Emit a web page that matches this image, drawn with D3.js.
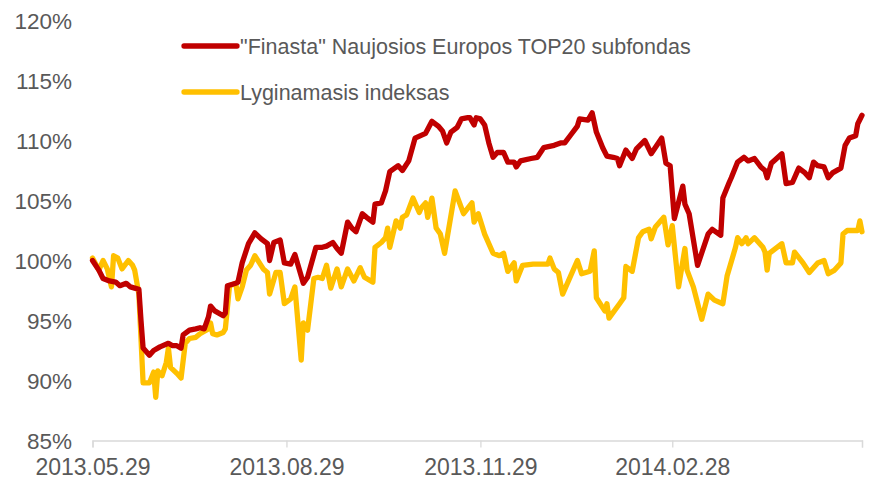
<!DOCTYPE html>
<html>
<head lang="lt">
    <meta charset="UTF-8">
    <title>Finasta TOP20</title>
    <script src="https://cdn.jsdelivr.net/npm/d3@7/dist/d3.min.js"></script>
    <style>
        body{margin:0;background:#fff;}
        text{font-family:Arial,"Liberation Sans",sans-serif;fill:#595959;}
    </style>
</head>
<body>
<script>
    // dienos nuo 2013.05.29 ir reiksmes procentais
    var fundDays=[0,3,5,8,11,13,16,18,20,22,23,24,27,29,32,36,38,40,42,43,46,49,51,53,55,56,58,62,63,64,68,69,71,74,77,80,83,84,86,89,91,94,96,100,102,106,109,111,114,116,118,121,123,125,128,130,133,134,137,139,141,145,147,150,153,158,161,164,166,168,170,173,175,178,179,181,182,184,186,188,190,192,195,197,200,201,203,208,211,214,219,222,224,227,230,231,235,237,239,242,244,247,249,250,253,256,258,262,265,270,272,274,276,280,281,283,287,292,294,298,299,302,303,306,309,311,314,317,319,320,322,327,329,332,335,338,340,342,344,347,349,351,355,357,359,362,363,365];
    var fundValues=[100.0,99.2,98.5,98.3,98.2,97.9,98.1,97.8,97.7,97.6,95.0,92.7,92.1,92.5,92.8,93.1,92.9,92.9,92.7,93.8,94.2,94.3,94.4,94.3,95.3,96.2,95.8,95.4,95.6,97.9,98.1,98.2,99.8,101.4,102.3,101.8,101.4,100.0,101.5,101.7,99.8,99.7,100.5,98.1,98.6,101.1,101.1,101.2,101.5,101.0,100.6,103.2,102.7,102.4,103.9,103.6,103.2,104.7,104.8,105.8,107.4,107.9,107.5,108.3,110.2,110.6,111.6,111.2,110.8,109.8,110.7,111.1,111.8,111.9,111.9,111.3,111.9,111.8,111.3,109.8,108.6,109.0,109.0,108.2,108.2,107.8,108.3,108.5,108.6,109.4,109.6,109.8,109.8,110.5,111.2,111.8,111.7,112.3,110.7,109.4,108.7,108.6,108.5,107.9,109.2,108.5,109.3,110.0,108.9,110.2,108.1,107.9,103.5,106.2,104.7,103.9,99.6,102.2,102.6,102.1,105.2,106.5,106.9,108.2,108.6,108.3,108.5,107.8,107.5,106.9,108.1,108.9,106.4,106.5,107.7,107.3,106.9,108.2,107.9,107.8,106.9,107.3,107.7,109.6,110.2,110.4,111.4,112.1];

    var indexDays=[0,3,5,7,9,10,12,14,17,19,20,22,24,27,29,30,31,33,35,36,37,40,42,44,46,49,51,55,56,57,59,62,63,65,68,69,71,73,75,77,81,83,84,87,89,91,94,96,99,100,102,105,107,109,111,113,116,118,121,124,127,129,133,134,137,139,140,141,144,146,147,149,152,155,156,158,159,161,163,165,167,172,176,180,181,183,186,190,193,195,197,200,201,204,209,216,217,219,221,223,230,232,236,238,239,243,244,245,250,252,253,256,259,261,264,265,267,271,273,275,278,281,282,285,289,292,295,299,301,305,306,308,310,311,314,318,319,320,321,327,329,332,333,337,340,344,347,349,352,355,356,358,363,364,365];
    var indexValues=[100.2,99.2,100.0,99.3,97.8,100.4,100.2,99.3,100.0,99.6,99.2,97.2,89.8,89.8,90.7,88.6,90.8,90.4,91.5,92.7,91.1,90.6,90.2,93.1,93.5,93.6,93.9,94.3,94.8,93.9,93.8,94.0,94.3,97.9,98.1,96.8,97.8,99.2,99.6,100.4,99.3,99.0,97.2,99.0,99.0,96.4,96.8,97.8,91.7,94.8,94.2,98.5,98.6,98.5,99.6,97.7,99.3,97.8,99.3,98.3,99.4,98.6,98.2,101.1,101.5,101.9,102.7,101.1,103.3,102.7,103.6,103.8,105.2,104.0,104.4,104.8,103.6,105.2,102.7,102.2,100.6,105.8,103.9,104.8,103.2,103.9,102.2,100.6,100.4,100.6,99.1,99.8,98.3,99.6,99.7,99.7,100.2,99.3,99.0,97.2,100.0,98.9,99.1,100.8,96.9,95.8,96.4,95.2,96.4,96.9,99.5,99.1,101.9,102.4,102.6,101.8,102.8,103.6,101.3,102.9,97.8,101.0,99.2,97.8,95.1,97.2,96.7,96.4,98.7,101.1,101.9,101.4,101.9,101.4,101.9,101.1,100.7,99.2,100.6,101.4,99.8,99.8,100.7,99.8,99.0,99.8,100.0,98.9,99.2,99.8,102.2,102.5,102.5,103.3,102.4];

    var seriesNames=['"Finasta" Naujosios Europos TOP20 subfondas','Lyginamasis indeksas'];
    var seriesColors=['#C00000','#FFC000'];
    var yTicks=[85,90,95,100,105,110,115,120];
    var xTickLabels=['2013.05.29','2013.08.29','2013.11.29','2014.02.28','2014.05.29'];

    var parse=d3.timeParse('%Y.%m.%d');
    var start=parse(xTickLabels[0]);
    function toPoints(days,vals){
        return days.map(function(d,i){return {date:d3.timeDay.offset(start,d),v:vals[i]};});
    }
    var series=[toPoints(fundDays,fundValues),toPoints(indexDays,indexValues)];

    var _svg=d3.select('body').append('svg')
            .attr('width',875)
            .attr('height',479);

    var _x=d3.scaleTime()
            .domain([start,parse(xTickLabels[xTickLabels.length-1])])
            .range([92.5,862]);
    var _y=d3.scaleLinear().domain([85,120]).range([440.5,20.5]);

    // y asis - tik tekstai
    _svg.append('g')
            .selectAll('text')
            .data(yTicks)
            .enter()
            .append('text')
            .attr('x',72)
            .attr('y',function(d){return _y(d);})
            .attr('dy','0.36em')
            .attr('text-anchor','end')
            .style('font-size','22.5px')
            .text(function(d){return d+'%';});

    // x asis
    var xAxis=d3.axisBottom(_x)
            .tickValues(xTickLabels.map(parse))
            .tickSize(7)
            .tickFormat(function(d,i){return i<4?xTickLabels[i]:'';});
    var gx=_svg.append('g')
            .attr('transform','translate(0,'+_y(85)+')')
            .call(xAxis);
    gx.select('.domain').attr('stroke','#d9d9d9').attr('stroke-width',1.3);
    gx.selectAll('.tick line').attr('stroke','#d9d9d9').attr('stroke-width',1.3);
    gx.selectAll('.tick text')
            .attr('y',26)
            .attr('dy','0.36em')
            .style('font-size','23px')
            .style('font-family','Arial,"Liberation Sans",sans-serif')
            .attr('fill','#595959');

    var _line=d3.line()
            .x(function(d){return _x(d.date);})
            .y(function(d){return _y(d.v);});

    // geltona po raudona
    [1,0].forEach(function(k){
        _svg.append('path')
                .datum(series[k])
                .attr('d',_line)
                .attr('fill','none')
                .attr('stroke',seriesColors[k])
                .attr('stroke-width',5.3)
                .attr('stroke-linejoin','round')
                .attr('stroke-linecap','round');
    });

    // legenda
    var lg=_svg.selectAll('.lg')
            .data(seriesNames)
            .enter()
            .append('g')
            .attr('class','lg')
            .attr('transform',function(d,i){return 'translate(183,'+(46+i*46)+')';});
    lg.append('line')
            .attr('x1',1).attr('x2',54)
            .attr('stroke',function(d,i){return seriesColors[i];})
            .attr('stroke-width',5.3)
            .attr('stroke-linecap','round');
    lg.append('text')
            .attr('x',57)
            .attr('dy','0.36em')
            .style('font-size','21.5px')
            .text(function(d){return d;});
</script>
</body>
</html>
